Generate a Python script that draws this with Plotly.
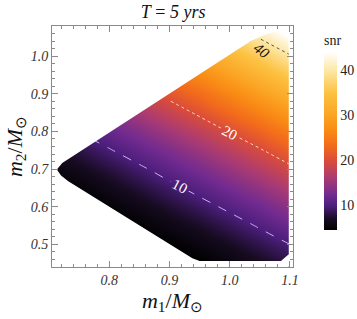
import plotly.graph_objects as go

# ---- data ----
m1_grid = [0.70, 0.75, 0.80, 0.85, 0.90, 0.95, 1.00, 1.05, 1.10]
m2_grid = [0.45, 0.50, 0.55, 0.60, 0.65, 0.70, 0.75, 0.80, 0.85, 0.90, 0.95, 1.00, 1.05, 1.10]
snr = [
    [1.7, 1.9, 2.4, 3.0, 3.7, 4.6, 5.7, 6.9, 8.2],
    [2.0, 2.5, 3.1, 3.8, 4.8, 5.9, 7.1, 8.5, 10.0],
    [2.6, 3.2, 4.0, 4.9, 6.1, 7.3, 8.7, 10.3, 12.0],
    [3.3, 4.1, 5.1, 6.3, 7.6, 9.0, 10.6, 12.3, 14.3],
    [4.3, 5.3, 6.5, 7.8, 9.3, 10.9, 12.7, 14.6, 16.7],
    [5.5, 6.7, 8.0, 9.5, 11.2, 13.0, 15.0, 17.1, 19.3],
    [6.9, 8.3, 9.8, 11.5, 13.3, 15.3, 17.5, 19.7, 22.2],
    [8.5, 10.1, 11.8, 13.7, 15.7, 17.8, 20.2, 22.6, 25.3],
    [10.4, 12.1, 14.0, 16.0, 18.2, 20.6, 23.1, 25.7, 28.6],
    [12.4, 14.3, 16.4, 18.6, 21.0, 23.5, 26.2, 29.1, 32.1],
    [14.7, 16.8, 19.0, 21.4, 24.0, 26.7, 29.6, 32.6, 35.8],
    [17.2, 19.4, 21.9, 24.5, 27.2, 30.1, 33.1, 36.3, 39.7],
    [19.9, 22.3, 24.9, 27.7, 30.6, 33.7, 36.9, 40.3, 43.8],
    [22.8, 25.4, 28.2, 31.1, 34.2, 37.5, 40.9, 44.5, 48.2],
]
snr_min, snr_max = 4.7, 44.0
contour_levels = [10, 20, 40]
# first grid column used for each contour (the part that enters the region)
contour_first_col = {10: 1, 20: 4, 40: 7}
colorbar_ticks = [10, 20, 30, 40]
x_ticks = [0.8, 0.9, 1.0, 1.1]
y_ticks = [0.5, 0.6, 0.7, 0.8, 0.9, 1.0]
label40_pos = (1.054, 1.014)

# outline of the computed (m1, m2) region
upper_m1 = [0.713, 0.722, 1.035, 1.060, 1.080, 1.093, 1.098]
upper_m2 = [0.699, 0.716, 1.040, 1.058, 1.068, 1.062, 1.040]
lower_m1 = [0.713, 0.720, 0.732, 0.938, 0.950, 1.085, 1.098]
lower_m2 = [0.699, 0.683, 0.668, 0.463, 0.456, 0.456, 0.474]
right_m1 = 1.098

colorscale = [
    [0.0, "#000000"],
    [0.06, "#160b20"],
    [0.135, "#4c1e7c"],
    [0.2, "#722b90"],
    [0.29, "#a83a74"],
    [0.389, "#da4c3a"],
    [0.47, "#f26a1c"],
    [0.56, "#f98b14"],
    [0.644, "#fba424"],
    [0.77, "#fcc242"],
    [0.898, "#fde8a6"],
    [1.0, "#ffffff"],
]
SERIF = "Liberation Serif"

fig = go.Figure()
fig.add_trace(go.Heatmap(
    x=m1_grid, y=m2_grid, z=snr, zsmooth="best",
    colorscale=colorscale, zmin=snr_min, zmax=snr_max,
    hoverinfo="skip",
    colorbar=dict(
        title=dict(text="snr", side="top",
                   font=dict(family=SERIF, size=14, color="#222")),
        tickvals=colorbar_ticks, ticks="", outlinewidth=0,
        thickness=13, len=0.82, lenmode="fraction", xpad=0, ypad=0,
        x=1.129, xanchor="left", y=0.566, yanchor="middle",
        tickfont=dict(family=SERIF, size=14, color="#222"),
    ),
))

styles = {10: ("dash", "#c9b3e6", "#ffffff", True),
          20: ("dot", "#f6d9c8", "#ffffff", True),
          40: ("dot", "#555555", "#111111", False)}
for lev in contour_levels:
    dash, lc, fc, lab = styles[lev]
    c0 = contour_first_col[lev]
    fig.add_trace(go.Contour(
        x=m1_grid[c0:], y=m2_grid, z=[row[c0:] for row in snr],
        showscale=False, hoverinfo="skip",
        contours=dict(start=lev, end=lev, size=1, coloring="none",
                      showlabels=lab,
                      labelfont=dict(family=SERIF, size=15, color=fc)),
        line=dict(color=lc, width=1, dash=dash),
    ))

# white mask outside the region
lo, hi_x, hi_y, bot = 0.6, 1.2, 1.2, 0.3
mask_x = ([lo] + upper_m1 + [right_m1, hi_x, hi_x, lo, None]
          + [lo] + lower_m1 + [right_m1, hi_x, hi_x, lo, None]
          + [right_m1, hi_x, hi_x, right_m1])
mask_y = ([upper_m2[0]] + upper_m2 + [hi_y, hi_y, hi_y, hi_y, None]
          + [lower_m2[0]] + lower_m2 + [bot, bot, bot, bot, None]
          + [bot, bot, hi_y, hi_y])
fig.add_trace(go.Scatter(x=mask_x, y=mask_y, mode="lines", fill="toself",
                         fillcolor="white", line=dict(width=0, color="white"),
                         hoverinfo="skip", showlegend=False))

fig.add_annotation(x=label40_pos[0], y=label40_pos[1], text="<i>40</i>",
                   showarrow=False, textangle=37,
                   font=dict(family=SERIF, size=15, color="#111"))

axis_common = dict(
    showline=True, linecolor="#8a8a8a", linewidth=1, mirror="allticks",
    ticks="inside", ticklen=6, tickcolor="#8a8a8a", tickwidth=1,
    showgrid=False, zeroline=False, layer="above traces", automargin=False,
    tickfont=dict(family=SERIF, size=14, color="#333"),
    minor=dict(ticks="inside", ticklen=3, dtick=0.02, tickcolor="#8a8a8a",
               showgrid=False),
)
fig.update_xaxes(range=[0.705, 1.105], tickvals=x_ticks,
                 ticktext=["<i>%.1f</i>" % v for v in x_ticks],
                 title=dict(text="<i>m</i><sub>1</sub>/<i>M</i><sub>⊙</sub>",
                            font=dict(family=SERIF, size=22, color="#111"),
                            standoff=4),
                 **axis_common)
fig.update_yaxes(range=[0.44, 1.08], tickvals=y_ticks,
                 ticktext=["<i>%.1f</i>" % v for v in y_ticks],
                 title=dict(text="<i>m</i><sub>2</sub>/<i>M</i><sub>⊙</sub>",
                            font=dict(family=SERIF, size=22, color="#111"),
                            standoff=2),
                 **axis_common)
fig.update_layout(
    width=357, height=319,
    margin=dict(l=52, r=64, t=26, b=52, autoexpand=False),
    paper_bgcolor="white", plot_bgcolor="white",
    title=dict(text="<i>T</i> = <i>5 yrs</i>", x=0.485, xanchor="center",
               y=0.962, yanchor="middle", yref="container",
               font=dict(family=SERIF, size=18, color="#111")),
    showlegend=False,
)
fig.write_html("out.html",
               config={"displayModeBar": False, "staticPlot": True},
               post_script="document.body.style.margin='0';"
                           "document.body.style.overflow='hidden';")
